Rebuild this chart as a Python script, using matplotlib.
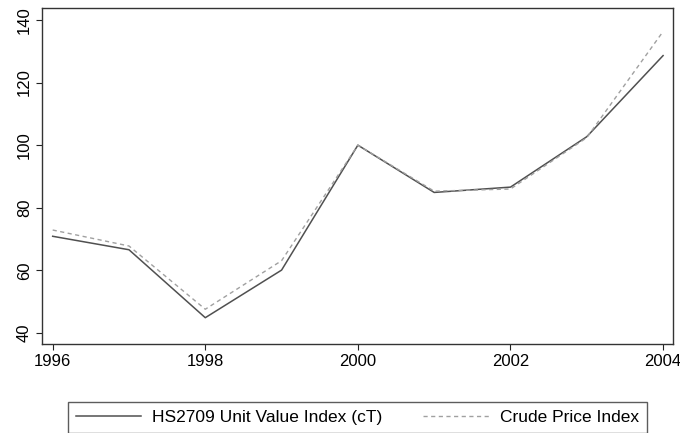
import numpy as np
import matplotlib
matplotlib.use("Agg")
import matplotlib.pyplot as plt

# values
years = [1996, 1997, 1998, 1999, 2000, 2001, 2002, 2003, 2004]
unit_value = [70.9, 66.6, 44.9, 60.1, 100.0, 84.9, 86.6, 102.7, 128.6]
crude_price = [72.9, 67.8, 47.6, 63.1, 100.0, 85.3, 86.0, 102.4, 136.3]

x_ticks = [1996, 1998, 2000, 2002, 2004]
y_ticks = [40, 60, 80, 100, 120, 140]
labels = ["HS2709 Unit Value Index (cT)", "Crude Price Index"]

plt.rcParams['font.family'] = ['Liberation Sans', 'DejaVu Sans']

fig = plt.figure(figsize=(6.8, 4.33), dpi=100)
ax = fig.add_axes([42/680, 1-344/433, (673-42)/680, (344-8)/433])

ax.plot(years, unit_value, color='#505050', lw=1.1, label=labels[0])
ax.plot(years, crude_price, color='#a0a0a0', lw=1.0, ls=(0, (3, 2.5)), label=labels[1])

ax.set_xlim(1995.86, 2004.13)
ax.set_ylim(36.5, 143.8)
ax.set_xticks(x_ticks)
ax.set_yticks(y_ticks)
ax.tick_params(direction='out', length=4.3, width=0.8, labelsize=12, pad=3,
               color='#222222')
plt.setp(ax.get_yticklabels(), rotation=90, va='center')
for s in ax.spines.values():
    s.set_color('#333333')
    s.set_linewidth(1.0)

leg = fig.legend(loc='upper left', bbox_to_anchor=(68/680, 1-402/433), ncol=2,
                 fontsize=12.5, frameon=True, fancybox=False, borderaxespad=0,
                 handlelength=3.75, handletextpad=0.66, columnspacing=2.35,
                 borderpad=0.45)
leg.get_frame().set_edgecolor('#333333')
leg.get_frame().set_linewidth(1.0)

fig.savefig('out.png', dpi=100)
